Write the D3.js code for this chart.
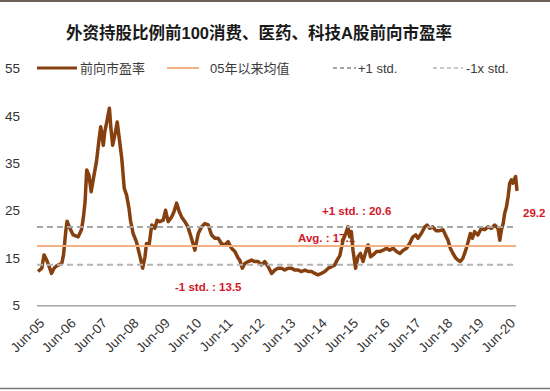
<!DOCTYPE html>
<html>
<head>
<meta charset="utf-8">
<script src="https://cdn.jsdelivr.net/npm/d3@7"></script>
<style>
  body { margin: 0; background: #fff; }
  svg { display: block; font-family: "Liberation Sans", Arial, "Noto Sans CJK SC", sans-serif; }
</style>
</head>
<body>
<div id="chart"></div>
<script>
// values
const dates = [
  "2005-06-01","2005-07-15","2005-08-10","2005-09-10","2005-10-10","2005-11-05","2005-12-05","2006-01-05",
  "2006-03-05","2006-03-25","2006-04-20","2006-05-05","2006-06-05","2006-07-15","2006-09-12","2006-10-20",
  "2006-11-10","2006-12-01","2006-12-20","2007-01-15","2007-02-10","2007-03-05","2007-04-12","2007-05-12",
  "2007-06-01","2007-07-01","2007-07-18","2007-08-15","2007-09-10","2007-09-28","2007-10-18","2007-11-12",
  "2007-12-10","2008-01-03","2008-02-01","2008-03-01","2008-03-28","2008-04-25","2008-05-12","2008-06-12",
  "2008-07-20","2008-09-01","2008-10-01","2008-10-28","2008-11-15","2008-12-15","2009-01-15","2009-02-20",
  "2009-03-18","2009-04-18","2009-05-28","2009-06-25","2009-07-25","2009-09-03","2009-10-01","2009-11-01",
  "2009-12-01","2009-12-28","2010-02-05","2010-03-12","2010-04-22","2010-06-01","2010-07-10","2010-08-18",
  "2010-09-25","2010-11-03","2010-12-12","2011-01-20","2011-02-28","2011-04-05","2011-05-15","2011-06-22",
  "2011-08-01","2011-09-10","2011-10-18","2011-11-05","2011-12-05","2012-01-03","2012-02-12","2012-03-20",
  "2012-04-28","2012-06-05","2012-07-15","2012-08-22","2012-10-01","2012-11-10","2012-12-18","2013-01-25",
  "2013-03-05","2013-04-12","2013-05-20","2013-07-01","2013-08-05","2013-09-15","2013-10-25","2013-12-03",
  "2014-01-10","2014-02-18","2014-03-28","2014-05-05","2014-06-12","2014-07-22","2014-09-01","2014-10-08",
  "2014-11-15","2014-12-12","2015-01-12","2015-02-20","2015-03-22","2015-04-18","2015-05-06","2015-05-27",
  "2015-06-15","2015-07-15","2015-08-12","2015-09-10","2015-10-10","2015-11-12","2015-12-08","2016-01-05",
  "2016-02-05","2016-03-15","2016-04-22","2016-06-01","2016-07-10","2016-08-15","2016-09-25","2016-11-03",
  "2016-12-12","2017-01-20","2017-02-28","2017-04-05","2017-05-12","2017-06-15","2017-07-10","2017-08-18",
  "2017-09-28","2017-10-25","2017-11-25","2017-12-28","2018-02-05","2018-03-20","2018-04-28","2018-06-05",
  "2018-06-25","2018-07-22","2018-08-22","2018-09-25","2018-10-20","2018-11-15","2018-12-15","2019-01-18",
  "2019-02-15","2019-03-12","2019-04-05","2019-05-01","2019-06-08","2019-07-18","2019-08-25","2019-10-03",
  "2019-11-12","2019-12-20","2020-01-28","2020-02-18","2020-03-08","2020-03-28","2020-04-15","2020-05-05",
  "2020-05-25","2020-06-12","2020-07-02","2020-07-20","2020-08-10","2020-08-20","2020-09-05"
];
const pe = [
  12.2,12.9,15.7,14.6,13.2,11.8,12.9,13.4,
  13.9,15.7,20.6,22.8,21.4,19.9,19.5,21.0,
  23.4,26.9,33.6,32.5,29.0,31.5,35.3,39.9,
  42.7,38.8,41.6,44.1,46.6,42.3,38.8,40.9,
  43.7,40.2,36.0,29.7,28.3,25.5,23.0,20.2,
  18.5,15.3,12.9,15.3,18.1,17.8,22.0,21.3,
  23.0,22.7,23.0,25.1,22.7,23.7,24.8,26.6,
  24.8,23.7,22.7,21.6,19.2,16.7,20.2,21.6,
  22.3,22.0,19.9,19.2,19.2,18.1,17.8,18.5,
  17.1,16.4,15.0,14.6,12.9,13.9,14.3,14.6,
  14.3,14.3,13.6,14.3,13.2,11.8,12.5,12.9,
  12.9,12.5,12.9,12.9,12.5,12.5,12.2,12.5,
  12.2,12.2,11.8,11.5,11.8,12.2,12.9,13.2,
  13.6,14.6,15.5,18.8,20.2,21.6,19.5,20.6,
  16.7,12.9,15.3,16.0,14.3,16.4,17.8,15.3,
  15.7,16.4,16.4,16.7,17.1,16.7,17.1,16.4,
  16.0,16.7,17.1,18.1,19.5,19.9,19.2,20.2,
  21.6,22.0,21.3,21.6,20.8,20.8,21.0,19.5,
  18.8,17.1,16.0,15.0,14.6,14.3,15.0,16.7,
  18.5,20.2,19.2,20.6,19.9,21.3,21.0,21.6,
  21.3,22.0,21.3,18.8,21.0,22.3,24.5,25.8,
  28.0,30.8,31.5,30.8,31.8,32.2,29.2
];

// reference lines as drawn: +1 std, average, -1 std
const refValues = [21.6, 17.6, 13.6];
const annoTexts = ["+1 std. : 20.6", "Avg. : 17.1", "-1 std. : 13.5"];
const lastLabel = "29.2";

const yTicks = [5, 15, 25, 35, 45, 55];
const xTickYears = d3.range(2005, 2021);
const legendNames = ["前向市盈率", "05年以来均值", "+1 std.", "-1x std."];

const title = "外资持股比例前100消费、医药、科技A股前向市盈率";

const width = 550, height = 391;
const parse = d3.timeParse("%Y-%m-%d");
const series = dates.map((d, i) => ({ date: parse(d), v: pe[i] }));

const x = d3.scaleTime()
    .domain([parse("2005-06-01"), parse("2020-09-05")])
    .range([38, 517]);
const y = d3.scaleLinear().domain([5, 55]).range([305.7, 68.3]);

const svg = d3.select("#chart").append("svg")
    .attr("width", width)
    .attr("height", height);

// frame lines top and bottom
svg.append("line").attr("x1", 0).attr("x2", width).attr("y1", 1).attr("y2", 1)
    .attr("stroke", "#6e625a").attr("stroke-width", 2);
svg.append("line").attr("x1", 0).attr("x2", width).attr("y1", 388.5).attr("y2", 388.5)
    .attr("stroke", "#7a7a7a").attr("stroke-width", 1.5);

// title
svg.append("text")
    .attr("x", 259).attr("y", 39)
    .attr("text-anchor", "middle")
    .attr("font-size", 16.5)
    .attr("font-weight", "bold")
    .attr("fill", "#1a1a1a")
    .text(title);

// y tick labels
svg.append("g").selectAll("text")
    .data(yTicks)
    .join("text")
    .attr("x", 20)
    .attr("y", d => y(d))
    .attr("dy", "0.35em")
    .attr("text-anchor", "end")
    .attr("font-size", 13.5)
    .attr("fill", "#333")
    .text(d => d);

// x axis line
svg.append("line")
    .attr("x1", 37).attr("x2", 516)
    .attr("y1", y(5)).attr("y2", y(5))
    .attr("stroke", "#a6a6a6").attr("stroke-width", 1.5);

// x tick labels
svg.append("g").selectAll("text")
    .data(xTickYears)
    .join("text")
    .attr("transform", d => `translate(${x(new Date(d, 5, 1)) + 4},${y(5) + 15}) rotate(-45)`)
    .attr("text-anchor", "end")
    .attr("dy", "0.35em")
    .attr("font-size", 13.5)
    .attr("fill", "#333")
    .text(d => "Jun-" + String(d % 100).padStart(2, "0"));

// annotations (under the line)
const red = "#d3172a";
const anno = svg.append("g")
    .attr("font-size", 11.5)
    .attr("font-weight", "bold")
    .attr("fill", red);
anno.append("text").attr("x", 322).attr("y", 215).text(annoTexts[0]);
anno.append("text").attr("x", 298).attr("y", 242).text(annoTexts[1]);
anno.append("text").attr("x", 175).attr("y", 291).text(annoTexts[2]);
anno.append("text").attr("x", 523).attr("y", 217).text(lastLabel);

// PE line
const line = d3.line()
    .x(d => x(d.date))
    .y(d => y(d.v));

svg.append("path")
    .datum(series)
    .attr("d", line)
    .attr("fill", "none")
    .attr("stroke", "#86400f")
    .attr("stroke-width", 3.5)
    .attr("stroke-linejoin", "round");

// reference lines on top
const refStyle = [
    { color: "#a6a6a6", dash: "6,4", w: 2 },
    { color: "#f4b183", dash: null, w: 2 },
    { color: "#b4b4b4", dash: "6,4", w: 2 }
];
svg.append("g").selectAll("line")
    .data(refValues)
    .join("line")
    .attr("x1", 37).attr("x2", 516)
    .attr("y1", d => y(d)).attr("y2", d => y(d))
    .attr("stroke", (d, i) => refStyle[i].color)
    .attr("stroke-width", (d, i) => refStyle[i].w)
    .attr("stroke-dasharray", (d, i) => refStyle[i].dash);

// legend
const legendItems = [
    { name: legendNames[0], x1: 37, x2: 77, tx: 80, color: "#86400f", dash: null, w: 3 },
    { name: legendNames[1], x1: 167, x2: 199, tx: 210, color: "#f4b183", dash: null, w: 2 },
    { name: legendNames[2], x1: 333, x2: 356, tx: 358, color: "#a6a6a6", dash: "4,3", w: 2 },
    { name: legendNames[3], x1: 433, x2: 463, tx: 466, color: "#c8c8c8", dash: "4,3", w: 2 }
];
const legend = svg.append("g");
legend.selectAll("line")
    .data(legendItems)
    .join("line")
    .attr("x1", d => d.x1).attr("x2", d => d.x2)
    .attr("y1", 68).attr("y2", 68)
    .attr("stroke", d => d.color)
    .attr("stroke-width", d => d.w)
    .attr("stroke-dasharray", d => d.dash);
legend.selectAll("text")
    .data(legendItems)
    .join("text")
    .attr("x", d => d.tx)
    .attr("y", 68)
    .attr("dy", "0.36em")
    .attr("font-size", 13)
    .attr("fill", "#3a3a3a")
    .text(d => d.name);
</script>
</body>
</html>
